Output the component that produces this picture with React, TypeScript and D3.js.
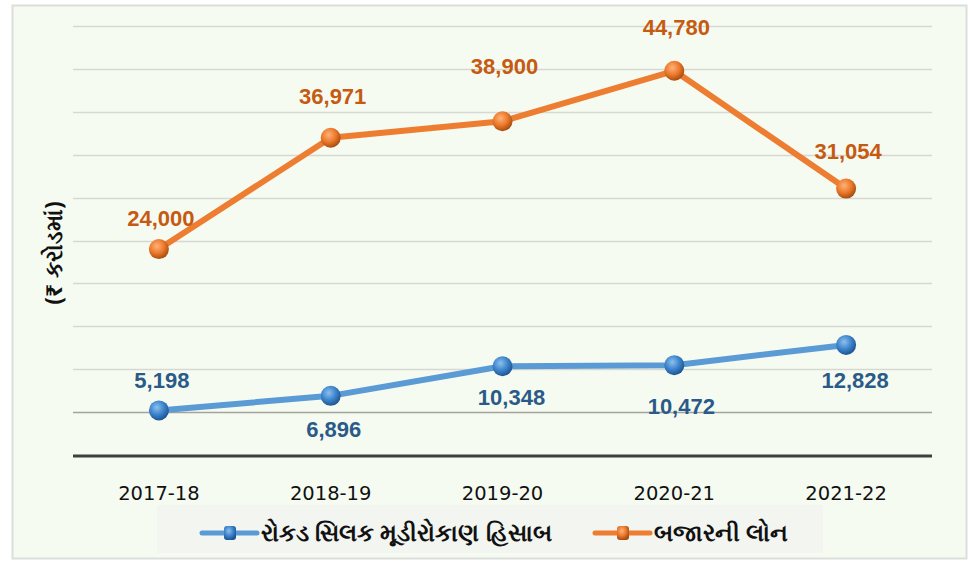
import React, { useEffect, useRef } from 'react'
import * as d3 from 'd3'

const years = ['2017-18', '2018-19', '2019-20', '2020-21', '2021-22']
const cashBalance = [5198, 6896, 10348, 10472, 12828]
const marketLoan = [24000, 36971, 38900, 44780, 31054]
const seriesNames = ['રોકડ સિલક મૂડીરોકાણ હિસાબ', 'બજારની લોન']
const yTicks = [5000, 10000, 15000, 20000, 25000, 30000, 35000, 40000, 45000, 50000]
const yTitle = '(₹ કરોડમાં)'

// label offsets (px from point), picked by eye
const loanLabelDy = [-31, -41, -55, -43, -37]
const cashLabelDy = [-30, 33, 31, 41, 35]
const cashLabelDx = [3, 3, 9, 7, 9]

const App = () => {
	const ref = useRef<SVGSVGElement>(null)
	const width = 976
	const height = 562
	const plotLeft = 73
	const plotRight = 932
	const baseY = 455
	const topY = 26

	useEffect(() => {
		document.body.style.margin = '0'
		if (!ref.current) return
		const svg = d3.select(ref.current)
		svg.selectAll('*').remove()

		const defs = svg.append('defs')
		const grad = (id, light, mid, dark) => {
			const g = defs
				.append('radialGradient')
				.attr('id', id)
				.attr('cx', '40%')
				.attr('cy', '35%')
				.attr('r', '65%')
			g.append('stop').attr('offset', '0%').attr('stop-color', light)
			g.append('stop').attr('offset', '55%').attr('stop-color', mid)
			g.append('stop').attr('offset', '100%').attr('stop-color', dark)
		}
		grad('gOrange', '#ffb27a', '#ec7a2c', '#a94d10')
		grad('gBlue', '#8cc0ee', '#3f85cc', '#1d5595')

		// frame
		svg
			.append('rect')
			.attr('x', 12.5)
			.attr('y', 5.5)
			.attr('width', 954)
			.attr('height', 553)
			.attr('fill', '#f6fbf1')
			.attr('stroke', '#dcdedb')
			.attr('stroke-width', 2)

		const x = d3
			.scalePoint()
			.domain(years)
			.range([plotLeft, plotRight])
			.padding(0.5)
		const y = d3.scaleLinear().domain([0, 50000]).range([baseY, topY])

		// gridlines
		svg
			.append('g')
			.selectAll('line')
			.data(yTicks)
			.join('line')
			.attr('x1', plotLeft)
			.attr('x2', plotRight)
			.attr('y1', d => Math.round(y(d)) + 0.5)
			.attr('y2', d => Math.round(y(d)) + 0.5)
			.attr('stroke', (d, i) => (i === 0 ? '#a3a39d' : '#d6d8d3'))
			.attr('stroke-width', 1.3)

		// baseline
		svg
			.append('line')
			.attr('x1', plotLeft)
			.attr('x2', plotRight)
			.attr('y1', baseY + 1)
			.attr('y2', baseY + 1)
			.attr('stroke', '#3f3f3f')
			.attr('stroke-width', 3)

		// x labels
		svg
			.append('g')
			.selectAll('text')
			.data(years)
			.join('text')
			.attr('x', d => x(d))
			.attr('y', 500)
			.attr('text-anchor', 'middle')
			.attr('font-family', 'DejaVu Sans, sans-serif')
			.attr('font-size', 19.5)
			.attr('fill', '#111')
			.text(d => d)

		// y title
		svg
			.append('text')
			.attr('transform', 'translate(62,253) rotate(-90)')
			.attr('text-anchor', 'middle')
			.attr('font-family', 'Noto Sans, DejaVu Sans, sans-serif')
			.attr('font-weight', 'bold')
			.attr('font-size', 23)
			.attr('fill', '#111')
			.text(yTitle)

		const line = d3
			.line<number>()
			.x((d, i) => x(years[i]))
			.y(d => y(d))

		const drawSeries = (vals, color, gradId, labelColor, dxs, dys) => {
			const g = svg.append('g')
			g.append('path')
				.datum(vals)
				.attr('d', line)
				.attr('fill', 'none')
				.attr('stroke', color)
				.attr('stroke-width', 6)
				.attr('stroke-linejoin', 'round')
			g.selectAll('circle')
				.data(vals)
				.join('circle')
				.attr('cx', (d, i) => x(years[i]))
				.attr('cy', d => y(d))
				.attr('r', 10)
				.attr('fill', `url(#${gradId})`)
			g.selectAll('text')
				.data(vals)
				.join('text')
				.attr('x', (d, i) => x(years[i]) + dxs[i])
				.attr('y', (d, i) => y(d) + dys[i])
				.attr('dy', '0.35em')
				.attr('text-anchor', 'middle')
				.attr('font-family', 'Liberation Sans, Arial, sans-serif')
				.attr('font-weight', 'bold')
				.attr('font-size', 22)
				.attr('fill', labelColor)
				.text(d => d3.format(',')(d))
		}

		drawSeries(
			cashBalance,
			'#5b9bd5',
			'gBlue',
			'#2a5a87',
			cashLabelDx,
			cashLabelDy
		)
		drawSeries(
			marketLoan,
			'#ed7d31',
			'gOrange',
			'#c55a11',
			[2, 2, 2, 2, 2],
			loanLabelDy
		)

		// legend
		const legend = svg.append('g')
		legend
			.append('rect')
			.attr('x', 157)
			.attr('y', 505)
			.attr('width', 666)
			.attr('height', 48)
			.attr('fill', '#f3f5f1')
		const items = [
			{ name: seriesNames[0], color: '#5b9bd5', grad: 'gBlue', x0: 202 },
			{ name: seriesNames[1], color: '#ed7d31', grad: 'gOrange', x0: 595 }
		]
		items.forEach(it => {
			legend
				.append('line')
				.attr('x1', it.x0)
				.attr('x2', it.x0 + 55)
				.attr('y1', 533)
				.attr('y2', 533)
				.attr('stroke', it.color)
				.attr('stroke-width', 5)
				.attr('stroke-linecap', 'round')
			legend
				.append('rect')
				.attr('x', it.x0 + 22)
				.attr('y', 526)
				.attr('width', 12)
				.attr('height', 14)
				.attr('rx', 3)
				.attr('fill', `url(#${it.grad})`)
			legend
				.append('text')
				.attr('x', it.x0 + 59)
				.attr('y', 541)
				.attr('font-family', 'Noto Sans, DejaVu Sans, sans-serif')
				.attr('font-weight', 'bold')
				.attr('font-size', 24)
				.attr('fill', '#111')
				.text(it.name)
		})
	}, [])

	return <svg width={width} height={height} ref={ref} style={{ display: 'block' }}></svg>
}

export default App
